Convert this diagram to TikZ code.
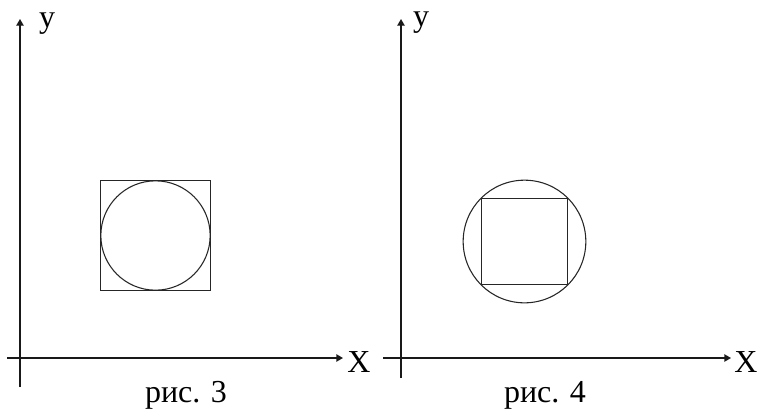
\documentclass[tikz,border=0pt]{standalone}
\usepackage{fontspec}
\setmainfont{Liberation Serif}
\usetikzlibrary{arrows.meta,positioning}

\begin{document}
\begin{tikzpicture}[x=0.75pt,y=-0.75pt,
  axis/.style={line width=1pt,draw=black!90,-{Triangle[length=5pt,width=5.5pt]}},
  lbl/.style={font=\fontsize{24}{28}\selectfont,inner sep=0pt,anchor=base},
  figline/.style={draw=black!85,line width=0.8pt,inner sep=0pt,outer sep=0pt}]
\useasboundingbox (0,0) rectangle (757,412);

% Left picture (circle in square)
\coordinate (o1x) at (7,358);
\coordinate (e1x) at (343,358);
\coordinate (o1y) at (20,387);
\coordinate (e1y) at (20,19);
\draw[axis] (o1x) -- (e1x);
\draw[axis] (o1y) -- (e1y);
\node[lbl] (y1) at (47,27) {y};
\node[lbl] (x1) at (359,372) {X};
\node[figline,rectangle,minimum size=82.1pt] (sq1) at (155.5,235.5) {};
\node[figline,circle,minimum size=82pt] (c1) at (155.5,235.5) {};
\node[lbl] (cap1) at (186,402) {рис. 3};

% Right picture (square in circle)
\coordinate (o2x) at (383,358);
\coordinate (e2x) at (731,358);
\coordinate (o2y) at (401,378);
\coordinate (e2y) at (401,19);
\draw[axis] (o2x) -- (e2x);
\draw[axis] (o2y) -- (e2y);
\node[lbl] (y2) at (421,26) {y};
\node[lbl] (x2) at (746,372) {X};
\node[figline,circle,minimum size=92pt] (c2) at (524.5,241.5) {};
\node[figline,rectangle,minimum size=65pt] (sq2) at (524.5,241.5) {};
\node[lbl] (cap2) at (545,402) {рис. 4};
\end{tikzpicture}
\end{document}
